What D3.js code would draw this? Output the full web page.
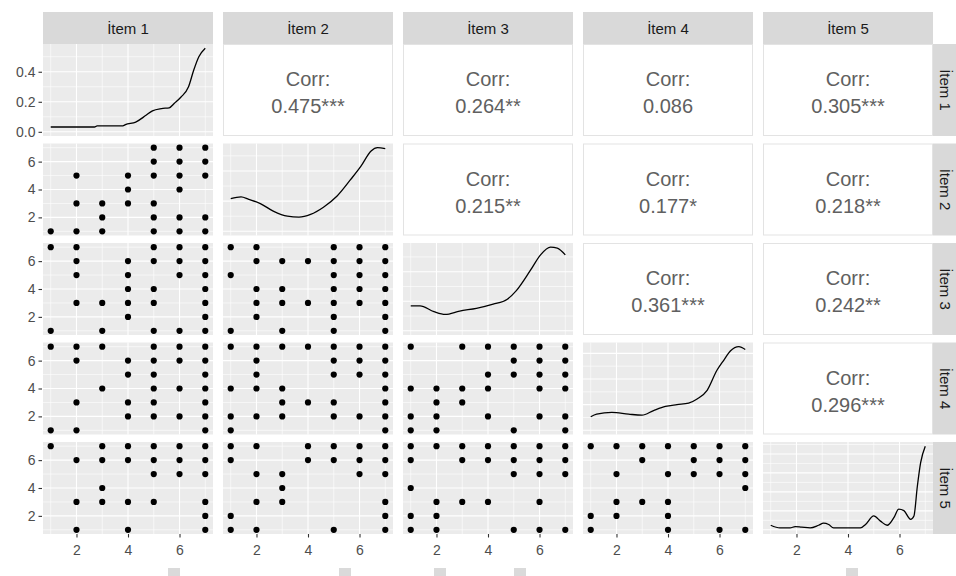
<!DOCTYPE html>
<html>
<head>
<meta charset="utf-8">
<script src="https://cdn.jsdelivr.net/npm/d3@7"></script>
<style>
  body { margin: 0; background: #fff; }
  text { font-family: "Liberation Sans", Arial, sans-serif; }
</style>
</head>
<body>
<svg id="chart" width="956" height="576"></svg>
<script>
const items = ["İtem 1", "İtem 2", "İtem 3", "İtem 4", "İtem 5"];
const levels = [7, 6, 5, 4, 3, 2, 1];

// upper triangle, row by row
const corrValues = ["0.475***", "0.264**", "0.086", "0.305***",
                    "0.215**", "0.177*", "0.218**",
                    "0.361***", "0.242**",
                    "0.296***"];

// scatter panels: for each y level (7 down to 1) the x values that have a point
const item2ByItem1 = [[5,6,7],[5,6,7],[2,4,5,6,7],[4,6],[2,3,4,5],[3,5,6,7],[1,2,3,5,6,7]];
const item3ByItem1 = [[1,2,5,6,7],[2,4,5,6,7],[2,4,6,7],[4,5,7],[2,3,4,5,7],[4,7],[1,3,5,6,7]];
const item3ByItem2 = [[1,2,5,6,7],[2,3,4,5,6,7],[1,5,6,7],[2,3,5,6,7],[2,3,4,5,6,7],[2,5,7],[1,3,5,7]];
const item4ByItem1 = [[1,2,3,5,6,7],[2,4,5,6,7],[4,5,7],[3,5,6,7],[2,4,5,7],[4,5,6,7],[1,2,7]];
const item4ByItem2 = [[1,2,3,4,5,6,7],[2,5,6,7],[2,5,6,7],[1,2,3,7],[3,4,5,7],[1,2,3,5,6,7],[1,7]];
const item4ByItem3 = [[1,3,4,5,6,7],[5,6,7],[4,5,6,7],[1,2,3,4,6,7],[2,3],[1,2,4,6,7],[1,2,5,7]];
const item5ByItem1 = [[1,3,4,5,6,7],[2,3,4,5,6,7],[5,6,7],[3],[2,3,4,5,7],[7],[2,4,7]];
const item5ByItem2 = [[1,2,4,5,6,7],[1,4,5,6,7],[2,3,6,7],[3],[2,3,7],[1,7],[1,2,5,7]];
const item5ByItem3 = [[1,2,3,4,5,6,7],[1,3,4,5,6,7],[5,6,7],[1],[2,3,4,6],[1,2],[1,2,5,6,7]];
const item5ByItem4 = [[1,2,3,4,5,6,7],[3,5,6,7],[2,4,5,6,7],[7],[2,3,4],[1,2,4],[1,4,6,7]];

// density curves on the diagonal
const dens1X = [1, 2.7, 2.8, 3.8, 3.9, 4.3, 4.7, 4.95, 5.3, 5.6, 5.8, 6.05, 6.35, 6.55, 6.75, 7];
const dens1Y = [0.032, 0.032, 0.04, 0.04, 0.048, 0.065, 0.11, 0.14, 0.155, 0.16, 0.19, 0.23, 0.30, 0.41, 0.50, 0.557];
const dens2X = [1, 1.4, 1.7, 2.15, 2.65, 3.2, 3.65, 4.1, 4.6, 5.13, 5.65, 6.05, 6.45, 6.7, 7];
const dens2Y = [0.108, 0.114, 0.106, 0.092, 0.067, 0.050, 0.047, 0.056, 0.080, 0.117, 0.171, 0.215, 0.266, 0.277, 0.274];
const dens3X = [1, 1.36, 1.9, 2.34, 2.9, 3.55, 4.2, 4.75, 5.1, 5.65, 6.04, 6.43, 6.69, 7];
const dens3Y = [0.0845, 0.0845, 0.065, 0.0555, 0.067, 0.076, 0.09, 0.107, 0.136, 0.205, 0.257, 0.283, 0.28, 0.257];
const dens4X = [1, 1.23, 1.82, 2.47, 2.99, 3.44, 3.9, 4.35, 4.8, 5.13, 5.52, 5.9, 6.17, 6.43, 6.75, 7];
const dens4Y = [0.053, 0.063, 0.070, 0.063, 0.059, 0.077, 0.093, 0.100, 0.106, 0.122, 0.156, 0.234, 0.274, 0.310, 0.326, 0.315];
const dens5X = [1, 1.36, 1.75, 1.95, 2.2, 2.53, 2.86, 3.05, 3.25, 3.44, 3.83, 4.48, 4.68, 5.0, 5.26, 5.52, 5.78, 5.97, 6.17, 6.43, 6.56, 6.69, 6.82, 7];
const dens5Y = [0.024, 0.010, 0.010, 0.017, 0.014, 0.010, 0.024, 0.035, 0.028, 0.010, 0.010, 0.010, 0.028, 0.073, 0.046, 0.024, 0.064, 0.109, 0.101, 0.055, 0.073, 0.227, 0.354, 0.441];

const scatterData = {
  "1-0": item2ByItem1, "2-0": item3ByItem1, "2-1": item3ByItem2,
  "3-0": item4ByItem1, "3-1": item4ByItem2, "3-2": item4ByItem3,
  "4-0": item5ByItem1, "4-1": item5ByItem2, "4-2": item5ByItem3, "4-3": item5ByItem4
};
const densData = [[dens1X, dens1Y], [dens2X, dens2Y], [dens3X, dens3Y], [dens4X, dens4Y], [dens5X, dens5Y]];
const densTickCount = [3, 3, 3, 3, 5];

const padLeft = 43, padTop = 44, pw = 170, ph = 92, gx = 10, gy = 7.5;
const colX = (i) => padLeft + i * (pw + gx);
const rowY = (j) => padTop + j * (ph + gy);
const svg = d3.select("#chart");

const xScales = items.map((_, i) => d3.scaleLinear().domain([0.7, 7.3]).range([colX(i), colX(i) + pw]));
const yScales = items.map((_, j) => d3.scaleLinear().domain([0.7, 7.3]).range([rowY(j) + ph, rowY(j)]));
const densScales = densData.map(([xs, ys], j) => {
  const m = d3.max(ys);
  return d3.scaleLinear().domain([-0.05 * m, 1.05 * m]).range([rowY(j) + ph, rowY(j)]);
});

function minorsOf(majors, domain) {
  const s = majors[1] - majors[0];
  const out = [majors[0] - s / 2];
  majors.forEach((m) => out.push(m + s / 2));
  return out.filter((v) => v > Math.min(...domain) && v < Math.max(...domain));
}

function drawPanelGrid(g, xs, ys, yMajor) {
  g.append("rect")
    .attr("x", xs.range()[0]).attr("y", ys.range()[1])
    .attr("width", pw).attr("height", ph)
    .attr("fill", "#EBEBEB");
  const xMajor = [2, 4, 6];
  const xMinor = minorsOf(xMajor, xs.domain());
  const yMinor = minorsOf(yMajor, ys.domain());
  const lines = [
    ...xMinor.map((v) => ({ v, dir: "x", w: 0.6 })),
    ...yMinor.map((v) => ({ v, dir: "y", w: 0.6 })),
    ...xMajor.map((v) => ({ v, dir: "x", w: 1.1 })),
    ...yMajor.map((v) => ({ v, dir: "y", w: 1.1 })),
  ];
  g.selectAll("line.grid").data(lines).enter().append("line")
    .attr("class", "grid")
    .attr("x1", (d) => d.dir === "x" ? xs(d.v) : xs.range()[0])
    .attr("x2", (d) => d.dir === "x" ? xs(d.v) : xs.range()[1])
    .attr("y1", (d) => d.dir === "y" ? ys(d.v) : ys.range()[1])
    .attr("y2", (d) => d.dir === "y" ? ys(d.v) : ys.range()[0])
    .attr("stroke", "#fff")
    .attr("stroke-width", (d) => d.w);
}

for (let j = 0; j < 5; j++) {
  for (let i = 0; i < 5; i++) {
    const g = svg.append("g");
    const xs = xScales[i];
    if (i < j) {
      const ys = yScales[j];
      drawPanelGrid(g, xs, ys, [2, 4, 6]);
      const pts = scatterData[`${j}-${i}`].flatMap((row, k) => row.map((x) => ({ x, y: levels[k] })));
      g.selectAll("circle").data(pts).enter().append("circle")
        .attr("cx", (d) => xs(d.x))
        .attr("cy", (d) => ys(d.y))
        .attr("r", 3.1)
        .attr("fill", "#000");
    } else if (i === j) {
      const ys = densScales[j];
      drawPanelGrid(g, xs, ys, ys.ticks(densTickCount[j]));
      const [dx, dy] = densData[j];
      const line = d3.line()
        .x((d) => xs(d[0]))
        .y((d) => ys(d[1]))
        .curve(d3.curveMonotoneX);
      g.append("path")
        .datum(dx.map((x, k) => [x, dy[k]]))
        .attr("d", line)
        .attr("fill", "none")
        .attr("stroke", "#000")
        .attr("stroke-width", 1.3);
    } else {
      const k = [0, 4, 7, 9][j] + (i - j - 1);
      const x0 = colX(i), y0 = rowY(j);
      g.append("rect")
        .attr("x", x0 + 0.5).attr("y", y0 + 0.5)
        .attr("width", pw - 1).attr("height", ph - 1)
        .attr("fill", "#fff")
        .attr("stroke", "#E3E3E3");
      g.append("text")
        .attr("x", x0 + pw / 2).attr("y", y0 + ph / 2 - 11)
        .attr("text-anchor", "middle").attr("dominant-baseline", "central")
        .attr("font-size", 20).attr("fill", "#606060")
        .text("Corr:");
      g.append("text")
        .attr("x", x0 + pw / 2).attr("y", y0 + ph / 2 + 16)
        .attr("text-anchor", "middle").attr("dominant-baseline", "central")
        .attr("font-size", 20).attr("fill", "#606060")
        .text(corrValues[k]);
    }
  }
}

// strips
items.forEach((name, i) => {
  svg.append("rect")
    .attr("x", colX(i)).attr("y", 12)
    .attr("width", pw).attr("height", 32)
    .attr("fill", "#D9D9D9");
  svg.append("text")
    .attr("x", colX(i) + pw / 2).attr("y", 28)
    .attr("text-anchor", "middle").attr("dominant-baseline", "central")
    .attr("font-size", 15).attr("fill", "#1A1A1A")
    .text(name);

  const sx = colX(4) + pw;
  svg.append("rect")
    .attr("x", sx).attr("y", rowY(i))
    .attr("width", 956 - sx).attr("height", ph)
    .attr("fill", "#D9D9D9");
  svg.append("text")
    .attr("transform", `translate(${sx + 12},${rowY(i) + ph / 2}) rotate(90)`)
    .attr("text-anchor", "middle").attr("dominant-baseline", "central")
    .attr("font-size", 15).attr("fill", "#1A1A1A")
    .text(name);
});

function styleAxis(sel) {
  sel.select(".domain").remove();
  sel.selectAll(".tick line").attr("stroke", "#333").attr("stroke-width", 1.1);
  sel.selectAll(".tick text").attr("fill", "#4D4D4D").attr("font-size", 14)
    .attr("font-family", "Liberation Sans, Arial, sans-serif");
}

// left axes
svg.append("g")
  .attr("transform", `translate(${colX(0) - 1},0)`)
  .call(d3.axisLeft(densScales[0]).tickValues([0, 0.2, 0.4]).tickFormat(d3.format(".1f")).tickSize(3.5).tickPadding(3))
  .call(styleAxis);
for (let j = 1; j < 5; j++) {
  svg.append("g")
    .attr("transform", `translate(${colX(0) - 1},0)`)
    .call(d3.axisLeft(yScales[j]).tickValues([2, 4, 6]).tickFormat(d3.format("d")).tickSize(3.5).tickPadding(3))
    .call(styleAxis);
}
// bottom axes
for (let i = 0; i < 5; i++) {
  svg.append("g")
    .attr("transform", `translate(0,${rowY(4) + ph})`)
    .call(d3.axisBottom(xScales[i]).tickValues([2, 4, 6]).tickFormat(d3.format("d")).tickSize(3.5).tickPadding(8))
    .call(styleAxis);
}

// faint grey marks along the bottom edge of the picture
[168, 339, 434, 514, 846].forEach((x) => {
  svg.append("rect").attr("x", x).attr("y", 568).attr("width", 12).attr("height", 8).attr("fill", "#DADADA");
});
</script>
</body>
</html>
